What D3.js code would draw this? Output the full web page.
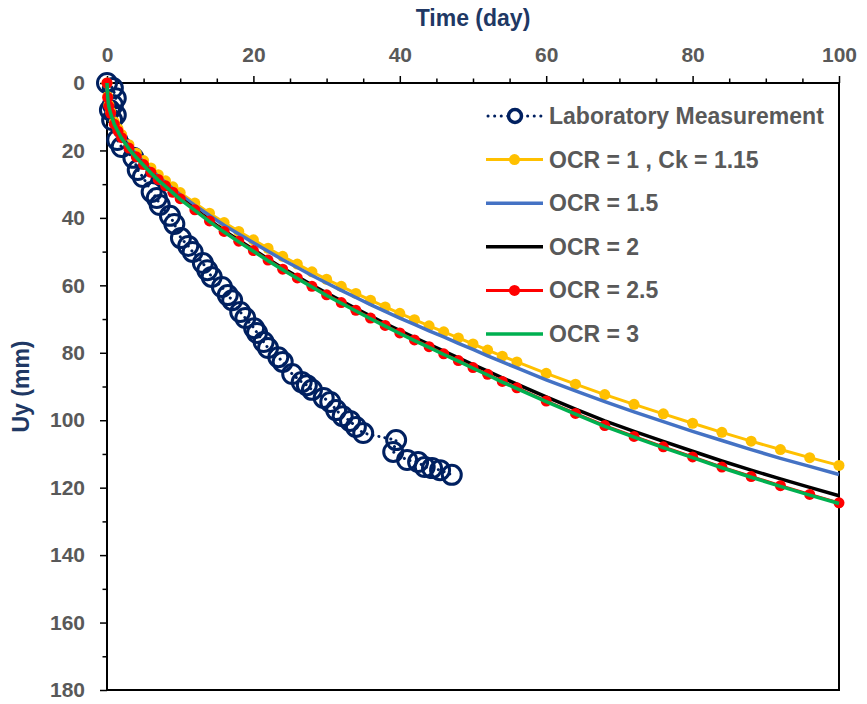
<!DOCTYPE html>
<html>
<head>
<meta charset="utf-8">
<script src="https://cdn.jsdelivr.net/npm/d3@7"></script>
<style>
  body { margin: 0; background: #fff; }
  text { font-family: "Liberation Sans", Arial, sans-serif; font-weight: bold; }
</style>
</head>
<body>
<script>
const width = 867;
const height = 704;

// laboratory measurement
const labTime = [0, 0.8, 1.2, 0.8, 0.4, 1.2, 0.7, 1.4, 2, 3.6, 4.2, 4.9, 6.1, 6.8, 7.2, 8.6, 9.2,
  10.1, 11.1, 11.7, 13.1, 13.7, 14.3, 15.7, 16.5, 17.1, 18.2, 18.9, 20.1, 20.5, 21.4,
  22, 23.4, 24, 25.3, 26.6, 27.3, 28, 29.6, 30.5, 31.3, 32.2, 33.2, 34, 35, 39.5, 39.1,
  41, 42.5, 43.4, 44.4, 45.5, 47.1];
const labUy = [0, 1.5, 4.5, 6.5, 8, 9.5, 11, 16.9, 19, 22.2, 25.8, 27.9, 32.3, 34.1, 36.2, 39.4, 41.8,
  46, 48.3, 50.1, 53.4, 55.5, 57.5, 60.5, 62.9, 64.4, 67.9, 69.7, 72.7, 74.1, 76.8,
  78.6, 81.3, 82.7, 86.3, 88.7, 89.6, 91, 93.4, 94.6, 97, 98.8, 100.2, 102, 103.8, 105.9, 109.4,
  111.8, 112.4, 113.9, 114.2, 114.8, 116.2];

// model output times (day)
const modelTime = [0, 0.1, 0.25, 0.5, 1, 1.5, 2, 3, 4, 5, 6, 7, 8, 9, 10, 12, 14, 16, 18, 20, 22, 24, 26, 28, 30,
  32, 34, 36, 38, 40, 42, 44, 46, 48, 50, 52, 54, 56, 60, 64, 68, 72, 76, 80, 84, 88, 92, 96, 100];

const ocr1 = [0, 4, 6.5, 8.5, 11.5, 13.5, 15.3, 18.3, 20.8, 23, 25.2, 27.2, 29, 30.8, 32.5, 35.6, 38.6, 41.4, 44, 46.5,
  49, 51.4, 53.7, 56, 58.2, 60.3, 62.4, 64.4, 66.4, 68.3, 70.2, 72, 73.8, 75.6, 77.4, 79.2, 81, 82.7, 86.1, 89.3,
  92.4, 95.3, 98.1, 100.9, 103.6, 106.2, 108.7, 111.1, 113.4];
const ocr15 = [0, 4, 6.6, 8.6, 11.7, 13.7, 15.6, 18.6, 21.2, 23.4, 25.7, 27.7, 29.5, 31.4, 33.1, 36.3, 39.3, 42.2, 44.8, 47.4,
  49.9, 52.4, 54.7, 57.1, 59.3, 61.5, 63.6, 65.7, 67.7, 69.7, 71.6, 73.5, 75.3, 77.2, 79, 80.9, 82.7, 84.5, 88, 91.3,
  94.5, 97.5, 100.4, 103.3, 106, 108.7, 111.3, 113.7, 116.1];
const ocr2 = [0, 4.3, 6.9, 9, 12.2, 14.3, 16.1, 19.2, 21.8, 24.1, 26.4, 28.5, 30.4, 32.2, 34.1, 37.4, 40.7, 43.8, 46.6, 49.4,
  52.2, 54.9, 57.4, 59.9, 62.3, 64.6, 66.9, 69.1, 71.3, 73.4, 75.5, 77.5, 79.5, 81.5, 83.5, 85.4, 87.4, 89.3, 93.1, 96.7,
  100.2, 103.3, 106.3, 109.2, 112.1, 114.8, 117.4, 119.9, 122.4];
const ocr25 = [0, 4.3, 6.9, 9, 12.2, 14.3, 16.2, 19.3, 21.9, 24.2, 26.5, 28.6, 30.5, 32.4, 34.3, 37.6, 40.9, 44, 46.9, 49.7,
  52.5, 55.2, 57.8, 60.3, 62.8, 65.1, 67.4, 69.7, 71.9, 74.1, 76.2, 78.2, 80.3, 82.3, 84.4, 86.4, 88.5, 90.4, 94.3, 98,
  101.6, 104.8, 107.9, 110.9, 113.9, 116.7, 119.4, 122, 124.5];
const ocr3 = [0, 4.4, 7, 9.1, 12.3, 14.4, 16.4, 19.5, 22.1, 24.4, 26.7, 28.8, 30.7, 32.6, 34.5, 37.8, 41.1, 44.2, 47.1, 49.9,
  52.7, 55.4, 58, 60.5, 63, 65.3, 67.6, 69.9, 72.1, 74.3, 76.4, 78.4, 80.5, 82.5, 84.6, 86.6, 88.7, 90.6, 94.5, 98.2,
  101.8, 105, 108.1, 111.1, 114.1, 116.9, 119.6, 122.2, 124.7];

const seriesNames = ["Laboratory Measurement", "OCR = 1 , Ck = 1.15", "OCR = 1.5", "OCR = 2", "OCR = 2.5", "OCR = 3"];
const xTicks = [0, 20, 40, 60, 80, 100];
const yTicks = [0, 20, 40, 60, 80, 100, 120, 140, 160, 180];

const margin = {top: 83, right: 28, bottom: 14, left: 107};
const innerW = width - margin.left - margin.right;
const innerH = height - margin.top - margin.bottom;

const labelColor = "#595959";
const titleColor = "#203864";

const svg = d3.select("body").append("svg")
    .attr("width", width)
    .attr("height", height);

const g = svg.append("g")
    .attr("transform", `translate(${margin.left},${margin.top})`);

const x = d3.scaleLinear().domain([0, 100]).range([0, innerW]);
const y = d3.scaleLinear().domain([0, 180]).range([0, innerH]);

// minor ticks
g.append("g")
    .call(d3.axisTop(x).tickValues(d3.range(0, 101, 5).filter(d => d % 20 !== 0)).tickSize(4.5).tickFormat(""))
    .call(a => a.select(".domain").remove())
    .selectAll("line").attr("stroke", "#000").attr("stroke-width", 1.5);
g.append("g")
    .call(d3.axisLeft(y).tickValues(d3.range(10, 180, 20)).tickSize(4.5).tickFormat(""))
    .call(a => a.select(".domain").remove())
    .selectAll("line").attr("stroke", "#000").attr("stroke-width", 1.5);

const xAxis = g.append("g")
    .call(d3.axisTop(x).tickValues(xTicks).tickSize(7).tickSizeOuter(0).tickPadding(14));
const yAxis = g.append("g")
    .call(d3.axisLeft(y).tickValues(yTicks).tickSize(7).tickSizeOuter(0).tickPadding(15));

[xAxis, yAxis].forEach(a => {
  a.select(".domain").remove();
  a.selectAll("line").attr("stroke", "#000").attr("stroke-width", 1.5);
  a.selectAll("text")
      .attr("fill", labelColor)
      .style("font-size", "21px")
      .style("font-family", "'Liberation Sans', Arial, sans-serif")
      .style("font-weight", "bold");
});

// plot frame
g.append("rect")
    .attr("width", innerW)
    .attr("height", innerH)
    .attr("fill", "none")
    .attr("stroke", "#000")
    .attr("stroke-width", 2);

svg.append("text")
    .attr("x", margin.left + innerW / 2)
    .attr("y", 26)
    .attr("text-anchor", "middle")
    .attr("fill", titleColor)
    .style("font-size", "23px")
    .text("Time (day)");

svg.append("text")
    .attr("transform", `translate(29,${margin.top + innerH / 2}) rotate(-90)`)
    .attr("text-anchor", "middle")
    .attr("fill", titleColor)
    .style("font-size", "23px")
    .text("Uy (mm)");

// lab measurement
const labData = labTime.map((t, i) => ({t: t, v: labUy[i]}));
const line = d3.line().x(d => x(d.t)).y(d => y(d.v));

g.append("path")
    .datum(labData)
    .attr("fill", "none")
    .attr("stroke", "#002060")
    .attr("stroke-width", 3)
    .attr("stroke-linecap", "round")
    .attr("stroke-dasharray", "0.1,6")
    .attr("d", line);

g.append("g").selectAll("circle")
    .data(labData)
    .enter().append("circle")
    .attr("cx", d => x(d.t))
    .attr("cy", d => y(d.v))
    .attr("r", 9.5)
    .attr("fill", "none")
    .attr("stroke", "#002060")
    .attr("stroke-width", 3);

const models = [
  {name: seriesNames[1], values: ocr1, color: "#FFC000", width: 3, marker: 5.5},
  {name: seriesNames[2], values: ocr15, color: "#4472C4", width: 3.5, marker: 0},
  {name: seriesNames[3], values: ocr2, color: "#000000", width: 3.5, marker: 0},
  {name: seriesNames[4], values: ocr25, color: "#FF0000", width: 3, marker: 5.5},
  {name: seriesNames[5], values: ocr3, color: "#00B050", width: 3.5, marker: 0}
];

models.forEach(m => {
  const data = modelTime.map((t, i) => ({t: t, v: m.values[i]}));
  g.append("path")
      .datum(data)
      .attr("fill", "none")
      .attr("stroke", m.color)
      .attr("stroke-width", m.width)
      .attr("stroke-linejoin", "round")
      .attr("d", line);
  if (m.marker) {
    g.append("g").selectAll("circle")
        .data(data)
        .enter().append("circle")
        .attr("cx", d => x(d.t))
        .attr("cy", d => y(d.v))
        .attr("r", m.marker)
        .attr("fill", m.color);
  }
});

// legend
const legend = svg.append("g");
const legendItems = [{name: seriesNames[0], color: "#002060", lab: true}].concat(models);

legendItems.forEach((d, i) => {
  const ly = 116 + i * 43.6;
  const row = legend.append("g").attr("transform", `translate(486,${ly})`);
  if (d.lab) {
    row.append("line")
        .attr("x1", 2).attr("x2", 57)
        .attr("stroke", d.color)
        .attr("stroke-width", 3)
        .attr("stroke-linecap", "round")
        .attr("stroke-dasharray", "0.1,6.5");
    row.append("circle")
        .attr("cx", 29).attr("r", 6.5)
        .attr("fill", "#fff")
        .attr("stroke", d.color)
        .attr("stroke-width", 3.5);
  } else {
    row.append("line")
        .attr("x1", 0).attr("x2", 57)
        .attr("stroke", d.color)
        .attr("stroke-width", d.width);
    if (d.marker) {
      row.append("circle")
          .attr("cx", 28.5).attr("r", d.marker)
          .attr("fill", d.color);
    }
  }
  row.append("text")
      .attr("x", 63)
      .attr("dy", "0.35em")
      .attr("fill", labelColor)
      .style("font-size", "23px")
      .text(d.name);
});
</script>
</body>
</html>
